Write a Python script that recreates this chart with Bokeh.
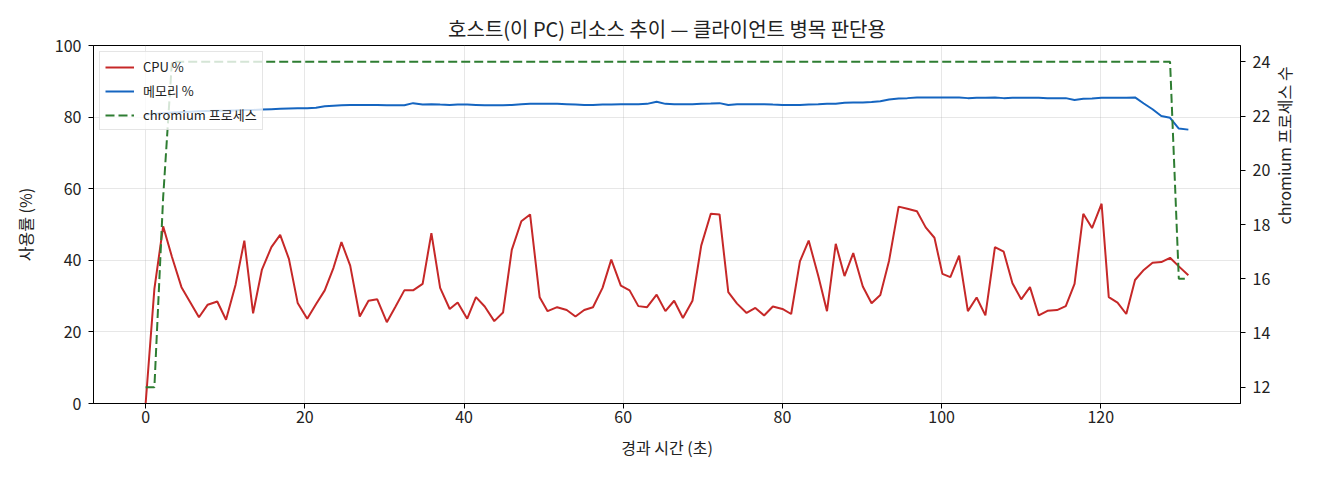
import math

from bokeh.embed import file_html
from bokeh.models import FixedTicker, Legend, LegendItem, LinearAxis, Range1d
from bokeh.plotting import figure
from bokeh.resources import INLINE

# elapsed seconds of each sample
elapsed_s = [
    0.0, 1.1, 2.2, 3.3, 4.5, 5.6, 6.7, 7.8, 9.0, 10.1,
    11.3, 12.4, 13.5, 14.6, 15.8, 16.9, 18.0, 19.1, 20.3, 21.4,
    22.5, 23.6, 24.6, 25.7, 26.9, 28.0, 29.1, 30.3, 31.4, 32.5,
    33.6, 34.8, 35.9, 37.0, 38.2, 39.2, 40.4, 41.5, 42.6, 43.8,
    44.9, 46.0, 47.2, 48.3, 49.5, 50.5, 51.7, 52.9, 54.0, 55.1,
    56.2, 57.4, 58.5, 59.7, 60.8, 61.9, 63.0, 64.2, 65.3, 66.4,
    67.5, 68.7, 69.8, 71.0, 72.1, 73.2, 74.3, 75.5, 76.6, 77.7,
    78.8, 80.0, 81.1, 82.2, 83.3, 84.5, 85.6, 86.7, 87.8, 88.9,
    90.1, 91.2, 92.3, 93.4, 94.6, 95.7, 96.9, 98.0, 99.1, 100.1,
    101.1, 102.2, 103.3, 104.4, 105.5, 106.7, 107.8, 108.9, 110.0, 111.1,
    112.2, 113.3, 114.5, 115.6, 116.7, 117.8, 118.9, 120.1, 121.0, 122.1,
    123.2, 124.3, 125.4, 126.5, 127.6, 128.7, 129.8, 131.0,
]

cpu_pct = [
    0.0, 32.0, 49.5, 41.0, 32.5, 28.3, 24.1, 27.6, 28.5, 23.4,
    33.2, 45.5, 25.2, 37.3, 43.7, 47.1, 40.4, 28.1, 23.7, 27.7,
    31.6, 37.9, 45.1, 38.5, 24.3, 28.7, 29.1, 22.7, 27.1, 31.6,
    31.6, 33.4, 47.6, 32.3, 26.4, 28.2, 23.7, 29.7, 27.1, 23.0,
    25.4, 42.9, 50.9, 52.8, 29.7, 25.8, 26.9, 26.1, 24.3, 26.1,
    26.9, 32.3, 40.2, 32.9, 31.6, 27.2, 26.9, 30.4, 25.8, 28.7,
    23.9, 28.7, 44.1, 53.0, 52.8, 31.1, 27.9, 25.3, 26.7, 24.6,
    27.1, 26.4, 25.0, 39.7, 45.5, 35.7, 25.8, 44.6, 35.6, 42.0,
    32.7, 28.0, 30.3, 39.9, 55.0, 54.4, 53.7, 49.2, 46.3, 36.2,
    35.3, 41.3, 25.8, 29.6, 24.6, 43.7, 42.4, 33.6, 29.1, 32.5,
    24.6, 25.9, 26.1, 27.2, 33.4, 53.0, 49.0, 55.8, 29.7, 28.2,
    25.0, 34.5, 37.3, 39.3, 39.5, 40.7, 38.3, 35.8,
]

mem_pct = [
    80.7, 80.9, 81.1, 81.3, 81.4, 81.5, 81.6, 81.7, 81.8, 81.8,
    81.9, 82.0, 82.0, 82.1, 82.2, 82.3, 82.4, 82.5, 82.5, 82.6,
    83.0, 83.2, 83.3, 83.4, 83.4, 83.4, 83.4, 83.3, 83.3, 83.3,
    83.9, 83.5, 83.6, 83.5, 83.4, 83.5, 83.5, 83.4, 83.3, 83.3,
    83.3, 83.4, 83.6, 83.7, 83.7, 83.7, 83.7, 83.6, 83.5, 83.4,
    83.4, 83.5, 83.5, 83.6, 83.6, 83.6, 83.7, 84.3, 83.7, 83.6,
    83.6, 83.6, 83.7, 83.8, 83.9, 83.4, 83.6, 83.6, 83.6, 83.6,
    83.5, 83.4, 83.4, 83.4, 83.5, 83.6, 83.7, 83.7, 84.0, 84.1,
    84.1, 84.2, 84.4, 84.9, 85.2, 85.3, 85.5, 85.5, 85.5, 85.5,
    85.5, 85.5, 85.3, 85.4, 85.4, 85.5, 85.3, 85.4, 85.4, 85.4,
    85.4, 85.3, 85.3, 85.3, 84.8, 85.1, 85.2, 85.4, 85.4, 85.4,
    85.4, 85.5, 83.8, 82.2, 80.3, 79.8, 76.8, 76.5,
]

chromium_procs = [12, 12, 19] + [24] * 113 + [16, 16]

FONT = "Noto Sans CJK KR"

p = figure(
    width=1312,
    height=472,
    x_range=Range1d(-6.55, 137.55),
    y_range=Range1d(0, 100),
    title="호스트(이 PC) 리소스 추이 — 클라이언트 병목 판단용",
    x_axis_label="경과 시간 (초)",
    y_axis_label="사용률 (%)",
    output_backend="svg",
    toolbar_location=None,
    min_border_left=93,
    min_border_right=72,
    min_border_top=45,
    min_border_bottom=69,
)
p.extra_y_ranges = {"procs": Range1d(11.4, 24.6)}

p.title.align = "center"
p.title.text_font = FONT
p.title.text_font_size = "20px"
p.title.text_font_style = "normal"
p.title.text_color = "#222222"
p.title.standoff = 6

p.outline_line_color = "black"
p.outline_line_width = 1
p.outline_line_alpha = 1

p.xaxis.ticker = FixedTicker(ticks=[0, 20, 40, 60, 80, 100, 120])
p.yaxis.ticker = FixedTicker(ticks=[0, 20, 40, 60, 80, 100])

right = LinearAxis(
    y_range_name="procs",
    axis_label="chromium 프로세스 수",
    ticker=FixedTicker(ticks=[12, 14, 16, 18, 20, 22, 24]),
)
p.add_layout(right, "right")
right.axis_label_orientation = math.pi / 2

for ax in p.xaxis + p.yaxis:
    ax.axis_line_color = "black"
    ax.major_tick_line_color = "black"
    ax.major_tick_out = 5
    ax.major_tick_in = 0
    ax.minor_tick_line_color = None
    ax.major_label_text_font = FONT
    ax.major_label_text_font_size = "16px"
    ax.major_label_text_color = "#222222"
    ax.major_label_standoff = 7
    ax.axis_label_text_font = FONT
    ax.axis_label_text_font_size = "16px"
    ax.axis_label_text_font_style = "normal"
    ax.axis_label_text_color = "#222222"
    ax.axis_label_standoff = 15

right.axis_label_standoff = 11
p.xaxis.major_label_standoff = 2
p.xaxis.axis_label_standoff = 9

p.xgrid.grid_line_color = "#b0b0b0"
p.xgrid.grid_line_alpha = 0.3
p.ygrid.grid_line_color = "#b0b0b0"
p.ygrid.grid_line_alpha = 0.3

cpu_line = p.line(elapsed_s, cpu_pct, line_color="#c62828", line_width=2)
mem_line = p.line(elapsed_s, mem_pct, line_color="#1565c0", line_width=2)
proc_line = p.line(
    elapsed_s,
    chromium_procs,
    line_color="#2e7d32",
    line_width=2,
    line_dash="9 4",
    y_range_name="procs",
)

legend = Legend(
    items=[
        LegendItem(label="CPU %", renderers=[cpu_line]),
        LegendItem(label="메모리 %", renderers=[mem_line]),
        LegendItem(label="chromium 프로세스", renderers=[proc_line]),
    ],
    location="top_left",
    label_text_font=FONT,
    label_text_font_size="13px",
    label_text_color="#222222",
    glyph_width=29,
    glyph_height=14,
    label_height=17,
    label_standoff=9,
    spacing=5,
    padding=5,
    margin=6,
    background_fill_alpha=0.8,
    border_line_color="#cccccc",
    border_line_width=1,
)
p.add_layout(legend)

open("out.html", "w").write(file_html(p, INLINE))
